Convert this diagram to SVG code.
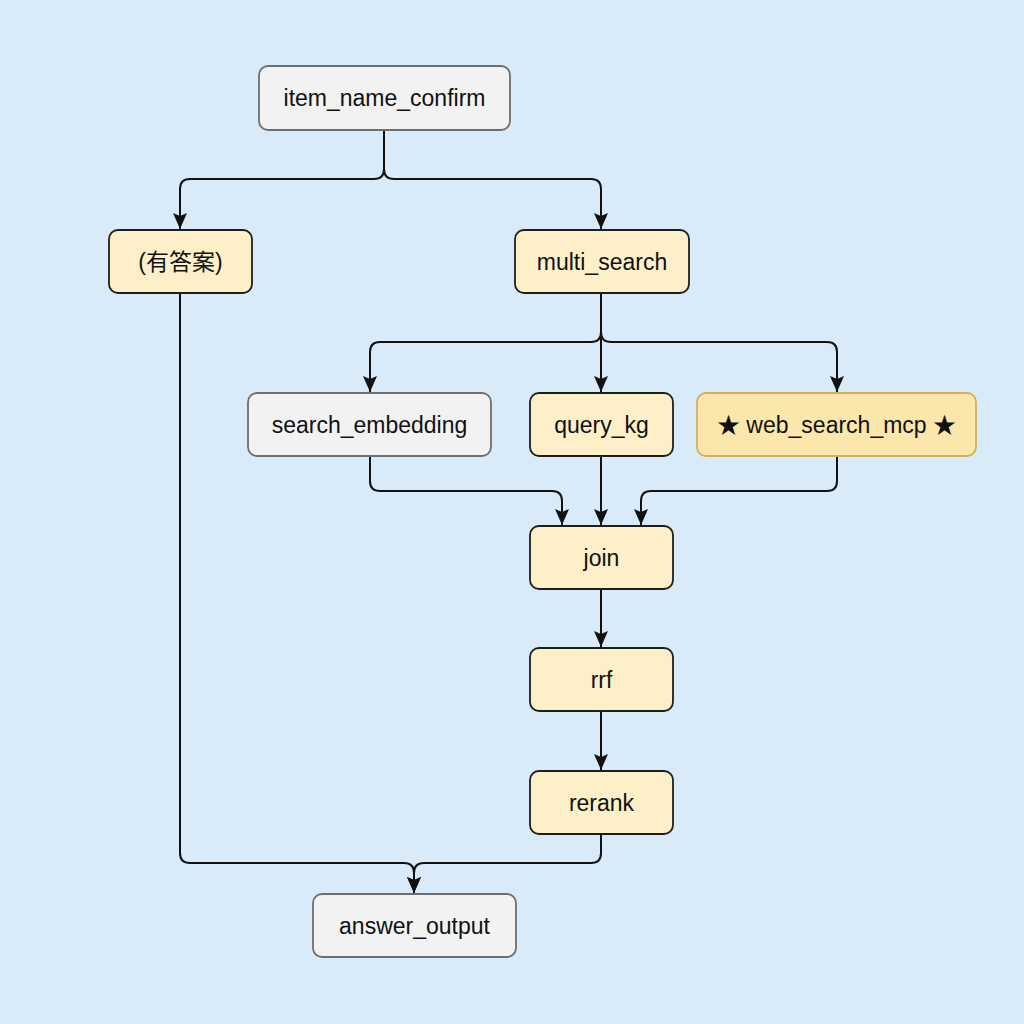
<svg xmlns="http://www.w3.org/2000/svg" width="1024" height="1024" viewBox="0 0 1024 1024">
<style>
.bg{fill:#d9ebf8}
.g rect{fill:#f2f2f2;stroke:#6e6e6e;stroke-width:1.8}
.y rect{fill:#fdf0c9;stroke:#1e1e1e;stroke-width:1.8}
.s rect{fill:#fbe6ab;stroke:#d3b058;stroke-width:1.8}
text{font-family:"Liberation Sans","Noto Sans CJK SC",Arial,sans-serif;font-size:23px;fill:#111;text-anchor:middle;dominant-baseline:central}
.c path{fill:none;stroke:#111;stroke-width:2;marker-end:url(#ah)}
</style>
<defs>
<marker id="ah" viewBox="0 0 16 14" refX="16" refY="7" markerWidth="16" markerHeight="14" markerUnits="userSpaceOnUse" orient="auto">
<path d="M0,0 L16,7 L0,14 L3,7 Z" fill="#111"/>
</marker>
</defs>
<rect class="bg" x="0" y="0" width="1024" height="1024"/>
<g class="c">
<path d="M384,130 V169 Q384,179 374,179 H190 Q180,179 180,189 V229"/>
<path d="M384,130 V169 Q384,179 394,179 H591 Q601,179 601,189 V229"/>
<path d="M601,293 V332 Q601,342 591,342 H380 Q370,342 370,352 V392"/>
<path d="M601,293 V392"/>
<path d="M601,293 V332 Q601,342 611,342 H827 Q837,342 837,352 V392"/>
<path d="M370,456 V481 Q370,491 380,491 H552 Q562,491 562,501 V525"/>
<path d="M601,456 V525"/>
<path d="M837,456 V481 Q837,491 827,491 H651 Q641,491 641,501 V525"/>
<path d="M601,589 V647"/>
<path d="M601,711 V770"/>
<path d="M180,293 V853 Q180,863 190,863 H404 Q414,863 414,873 V893"/>
<path d="M601,834 V853 Q601,863 591,863 H424 Q414,863 414,873 V893"/>
</g>
<g id="item_name_confirm" class="g"><rect x="259" y="66" width="251" height="64" rx="9"/><text x="384.5" y="98">item_name_confirm</text></g>
<g id="has_answer" class="y"><rect x="109" y="230" width="143" height="63" rx="9"/><text x="180.5" y="262">(有答案)</text></g>
<g id="multi_search" class="y"><rect x="515" y="230" width="174" height="63" rx="9"/><text x="602" y="262">multi_search</text></g>
<g id="search_embedding" class="g"><rect x="248" y="393" width="243" height="63" rx="9"/><text x="369.5" y="425">search_embedding</text></g>
<g id="query_kg" class="y"><rect x="530" y="393" width="143" height="63" rx="9"/><text x="601.5" y="425">query_kg</text></g>
<g id="web_search_mcp" class="s"><rect x="697" y="393" width="279" height="63" rx="9"/><text x="836.5" y="425">★ web_search_mcp ★</text></g>
<g id="join" class="y"><rect x="530" y="526" width="143" height="63" rx="9"/><text x="601.5" y="558">join</text></g>
<g id="rrf" class="y"><rect x="530" y="648" width="143" height="63" rx="9"/><text x="601.5" y="680">rrf</text></g>
<g id="rerank" class="y"><rect x="530" y="771" width="143" height="63" rx="9"/><text x="601.5" y="803">rerank</text></g>
<g id="answer_output" class="g"><rect x="313" y="894" width="203" height="63" rx="9"/><text x="414.5" y="926">answer_output</text></g>
</svg>
